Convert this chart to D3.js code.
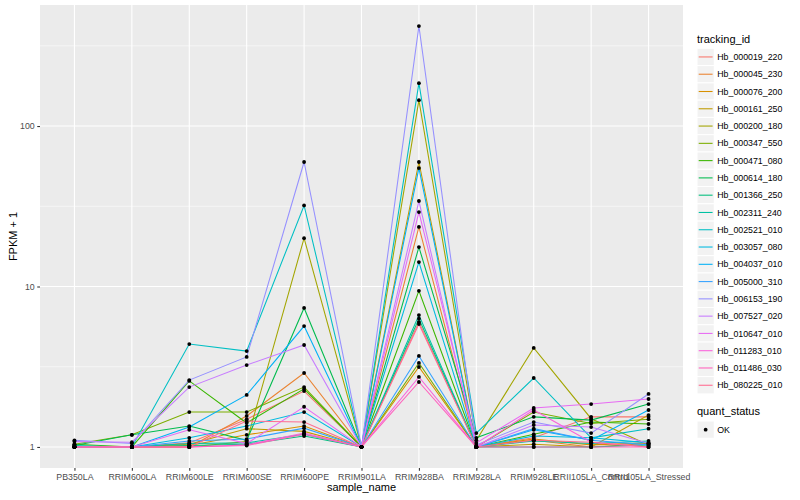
<!DOCTYPE html>
<html>
<head>
<meta charset="utf-8">
<script src="https://cdn.jsdelivr.net/npm/d3@7"></script>
<style>
  body { margin: 0; background: #fff; }
  text { font-family: "Liberation Sans", Arial, sans-serif; }
</style>
</head>
<body>
<div id="chart"></div>
<script>
// Datos: muestras (eje x), genes y FPKM + 1 por gen
const sampleNames = ["PB350LA", "RRIM600LA", "RRIM600LE", "RRIM600SE", "RRIM600PE", "RRIM901LA",
                     "RRIM928BA", "RRIM928LA", "RRIM928LE", "RRII105LA_Control", "RRII105LA_Stressed"]

const trackingIds = ["Hb_000019_220", "Hb_000045_230", "Hb_000076_200", "Hb_000161_250", "Hb_000200_180",
                     "Hb_000347_550", "Hb_000471_080", "Hb_000614_180", "Hb_001366_250", "Hb_002311_240",
                     "Hb_002521_010", "Hb_003057_080", "Hb_004037_010", "Hb_005000_310", "Hb_006153_190",
                     "Hb_007527_020", "Hb_010647_010", "Hb_011283_010", "Hb_011486_030", "Hb_080225_010"]

// una fila por gen, una columna por muestra
const fpkmPlus1 = [
  [1.00, 1.00, 1.06, 1.49, 2.23, 1.00,   6.0, 1.00, 1.14, 1.54, 1.54],
  [1.00, 1.00, 1.00, 1.56, 2.89, 1.00,  23.5, 1.00, 1.10, 1.00, 1.05],
  [1.00, 1.00, 1.02, 1.19, 1.35, 1.00,  3.15, 1.00, 1.12, 1.03, 1.06],
  [1.00, 1.00, 1.04, 1.30, 1.25, 1.00,  59.7, 1.00, 1.04, 1.00, 1.58],
  [1.00, 1.00, 1.00, 1.08, 20.0, 1.00, 145.0, 1.10, 4.14, 1.50, 1.03],
  [1.04, 1.19, 1.65, 1.65, 2.36, 1.00,  3.34, 1.00, 1.65, 1.40, 1.49],
  [1.04, 1.00, 2.58, 1.41, 2.30, 1.00,   9.4, 1.00, 1.20, 1.43, 1.39],
  [1.02, 1.19, 1.35, 1.10, 7.35, 1.00,  17.6, 1.14, 1.54, 1.47, 1.85],
  [1.00, 1.00, 1.02, 1.04, 1.17, 1.00,   6.3, 1.00, 1.00, 1.00, 1.03],
  [1.02, 1.00, 1.05, 1.06, 1.20, 1.00,  6.64, 1.00, 1.09, 1.05, 1.09],
  [1.00, 1.00, 4.38, 3.96, 32.0, 1.00, 185.0, 1.22, 2.69, 1.14, 1.30],
  [1.00, 1.00, 1.14, 1.35, 1.65, 1.00,  14.2, 1.00, 1.17, 1.14, 1.06],
  [1.00, 1.00, 1.33, 2.11, 5.67, 1.00,  54.7, 1.00, 1.28, 1.10, 1.70],
  [1.00, 1.00, 1.09, 1.12, 1.31, 1.00,  3.69, 1.00, 1.30, 1.10, 1.03],
  [1.10, 1.05, 2.61, 3.64, 59.7, 1.00, 420.0, 1.03, 1.43, 1.22, 2.14],
  [1.08, 1.07, 2.36, 3.24, 4.32, 1.00,  34.1, 1.00, 1.37, 1.33, 1.05],
  [1.00, 1.00, 1.28, 1.05, 1.78, 1.00,  29.1, 1.06, 1.75, 1.85, 1.99],
  [1.00, 1.00, 1.00, 1.03, 1.22, 1.00,  2.73, 1.00, 1.70, 1.07, 1.00],
  [1.00, 1.00, 1.00, 1.02, 1.20, 1.00,  2.54, 1.00, 1.00, 1.00, 1.00],
  [1.00, 1.00, 1.00, 1.45, 1.43, 1.00,  5.84, 1.00, 1.10, 1.07, 1.00]
]

const yTicks = [1, 10, 100]
const quantStatus = ["OK"]

// paleta por defecto de ggplot (hue) para 20 niveles
const palette = ["#F8766D", "#EA8331", "#D89000", "#C09B00", "#A3A500", "#7CAE00", "#39B600", "#00BB4E",
                 "#00BF7D", "#00C1A3", "#00BFC4", "#00BAE0", "#00B0F6", "#35A2FF", "#9590FF", "#C77CFF",
                 "#E76BF3", "#FA62DB", "#FF62BC", "#FF6C91"]

const W = 800, H = 500
const margin = {top: 5, right: 117, bottom: 32, left: 40}
const width = W - margin.left - margin.right
const height = H - margin.top - margin.bottom

const svg = d3.select("#chart").append("svg")
  .attr("width", W).attr("height", H)

const g = svg.append("g").attr("transform", `translate(${margin.left},${margin.top})`)

// Escalas
const x = d3.scalePoint().domain(sampleNames).range([0, width]).padding(0.6)

const allVals = fpkmPlus1.flat()
const lo = Math.log10(d3.min(allVals)), hi = Math.log10(d3.max(allVals))
const pad = (hi - lo) * 0.05
const y = d3.scaleLog().domain([10 ** (lo - pad), 10 ** (hi + pad)]).range([height, 0])

const color = d3.scaleOrdinal().domain(trackingIds).range(palette)

// Panel y rejilla
g.append("rect").attr("width", width).attr("height", height).attr("fill", "#EBEBEB")

const minorTicks = [10 ** 0.5, 10 ** 1.5, 10 ** 2.5]
g.selectAll(".minor").data(minorTicks).join("line")
  .attr("x1", 0).attr("x2", width)
  .attr("y1", d => y(d)).attr("y2", d => y(d))
  .attr("stroke", "#fff").attr("stroke-width", 0.55)

g.selectAll(".majorY").data(yTicks).join("line")
  .attr("x1", 0).attr("x2", width)
  .attr("y1", d => y(d)).attr("y2", d => y(d))
  .attr("stroke", "#fff").attr("stroke-width", 1.1)

g.selectAll(".majorX").data(sampleNames).join("line")
  .attr("x1", d => x(d)).attr("x2", d => x(d))
  .attr("y1", 0).attr("y2", height)
  .attr("stroke", "#fff").attr("stroke-width", 1.1)

// Líneas
const series = trackingIds.map((id, i) => ({id, values: sampleNames.map((s, j) => ({s, v: fpkmPlus1[i][j]}))}))
const line = d3.line().x(d => x(d.s)).y(d => y(d.v))

g.selectAll(".serie").data(series).join("path")
  .attr("fill", "none")
  .attr("stroke", d => color(d.id))
  .attr("stroke-width", 1.07)
  .attr("d", d => line(d.values))

// Puntos
g.selectAll(".pt").data(series.flatMap(d => d.values)).join("circle")
  .attr("cx", d => x(d.s)).attr("cy", d => y(d.v))
  .attr("r", 1.9).attr("fill", "#000")

// Ejes
const xAxis = g.append("g").attr("transform", `translate(0,${height})`)
  .call(d3.axisBottom(x).tickSize(2.75).tickPadding(3))
const yAxis = g.append("g")
  .call(d3.axisLeft(y).tickValues(yTicks).tickFormat(d3.format("d")).tickSize(2.75).tickPadding(2.5))

for (const ax of [xAxis, yAxis]) {
  ax.select(".domain").remove()
  ax.selectAll(".tick line").attr("stroke", "#333333").attr("stroke-width", 1.07)
  ax.selectAll(".tick text").attr("fill", "#4D4D4D").style("font-size", "8.8px")
    .style("font-family", "'Liberation Sans', Arial, sans-serif")
}

svg.append("text")
  .attr("x", margin.left + width / 2).attr("y", 491)
  .attr("text-anchor", "middle").style("font-size", "11px").attr("fill", "#000")
  .text("sample_name")

svg.append("text")
  .attr("transform", `translate(16.5,${margin.top + height / 2}) rotate(-90)`)
  .attr("text-anchor", "middle").style("font-size", "11px").attr("fill", "#000")
  .text("FPKM + 1")

// Leyenda tracking_id
const lx = 697, keyH = 17.28
const legend = svg.append("g")
legend.append("text").attr("x", lx).attr("y", 43).style("font-size", "11px").text("tracking_id")

const items = legend.selectAll(".item").data(trackingIds).join("g")
  .attr("transform", (d, i) => `translate(${lx},${48.3 + i * keyH})`)
items.append("rect").attr("width", keyH).attr("height", keyH)
  .attr("fill", "#F2F2F2").attr("stroke", "#fff").attr("stroke-width", 1)
items.append("line").attr("x1", 1.7).attr("x2", keyH - 1.7)
  .attr("y1", keyH / 2).attr("y2", keyH / 2)
  .attr("stroke", d => color(d)).attr("stroke-width", 1.07)
items.append("text").attr("x", keyH + 3).attr("y", keyH / 2 + 3.1)
  .style("font-size", "8.8px").attr("fill", "#000").text(d => d)

// Leyenda quant_status
const leg2 = svg.append("g")
leg2.append("text").attr("x", lx).attr("y", 415).style("font-size", "11px").text("quant_status")
const items2 = leg2.selectAll(".item").data(quantStatus).join("g")
  .attr("transform", (d, i) => `translate(${lx},${421 + i * keyH})`)
items2.append("rect").attr("width", keyH).attr("height", keyH)
  .attr("fill", "#F2F2F2").attr("stroke", "#fff").attr("stroke-width", 1)
items2.append("circle").attr("cx", keyH / 2).attr("cy", keyH / 2).attr("r", 1.9).attr("fill", "#000")
items2.append("text").attr("x", keyH + 3).attr("y", keyH / 2 + 3.1)
  .style("font-size", "8.8px").attr("fill", "#000").text(d => d)
</script>
</body>
</html>
